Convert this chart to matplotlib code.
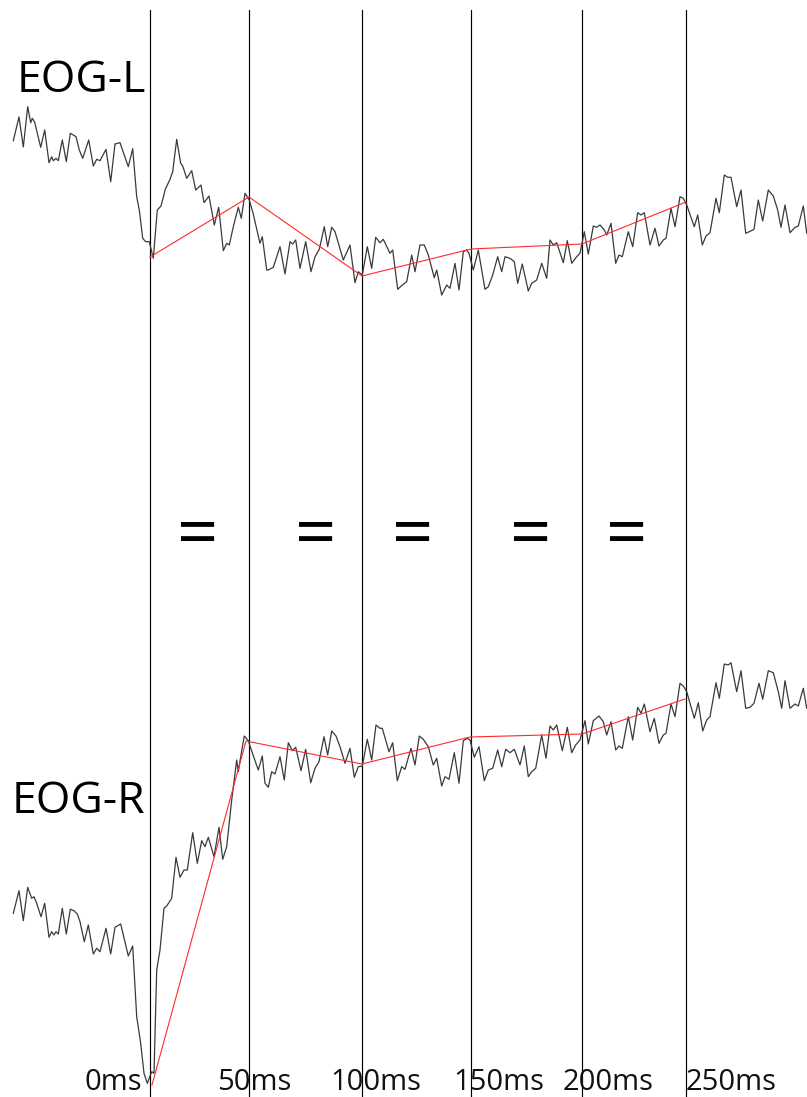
import matplotlib.pyplot as plt

# screen-space layout of the panel (x to the right, y downward)
WIDTH, HEIGHT = 807, 1097

# marker positions (vertical cursors) and their labels
cursor_x = [150, 249, 362, 471, 582, 686]
tick_labels = ["0ms", "50ms", "100ms", "150ms", "200ms", "250ms"]
tick_label_x = [85, 217, 330, 453, 563, 686]
equals_x = [198, 316, 413, 531, 627]

# left channel trace (vertices)
eog_l_x = [13.3, 19, 23.3, 27.7, 30.7, 32.3, 34.7, 40.7, 44.7, 49, 51.7, 53.3,
           56, 58.3, 62.3, 66.3, 70.3, 73.3, 76, 79.3, 82.7, 88.7, 93.3, 96.7,
           100, 106, 110.7, 115, 120, 128.3, 132.7, 136.7, 139.3, 142.7, 145.7,
           149.3, 153.3, 157.3, 161, 165.3, 170, 172.7, 176.7, 180.7, 182.7,
           186.7, 191.7, 195.7, 201, 204, 209, 214.3, 218.7, 223.3, 226.7,
           229.3, 233.3, 238.3, 241.3, 245, 249.3, 253, 260, 262.3, 266.7,
           268.3, 273.3, 280, 285, 290, 292.7, 295.7, 300, 305.7, 311, 315,
           319.3, 324.3, 327.7, 331.7, 335, 343.3, 350, 355, 358.3, 362.3,
           367.3, 371.7, 375.7, 380, 383.3, 390, 392.7, 397.7, 402.3, 406.7,
           411.7, 415, 420, 424.3, 428.3, 434.3, 436.7, 441.7, 446.7, 450, 455,
           459, 463.3, 466.7, 469, 473.3, 478.3, 485, 488.3, 492.7, 497.7,
           501.7, 505, 510, 514.3, 517.7, 522.3, 528.3, 531.7, 536.7, 541.7,
           546.7, 550, 553.3, 556.7, 563.3, 567.3, 571.7, 576.7, 580, 584.3,
           588.3, 593.3, 596.7, 600, 604.3, 606.7, 611, 615.7, 619, 622.3,
           628.3, 632.7, 637.7, 641, 644.3, 650, 655, 659, 663.3, 666, 671, 675,
           680, 683.3, 686.7, 694.3, 697.7, 702.3, 706, 710, 716, 719.3, 724.3,
           727.7, 731, 736.7, 741, 745.7, 749.3, 754, 758.3, 762.7, 768.3,
           773.3, 777.7, 781, 785, 790, 795, 798.3, 803.3, 806.7, 810]
eog_l_y = [140.7, 117, 147, 106.7, 122.7, 118.3, 122.3, 147.3, 130, 162.7,
           156.7, 160.7, 158.3, 160.7, 140, 161.7, 133.3, 135, 136.7, 150,
           158.3, 140, 166, 159.3, 160.7, 149.3, 181.7, 144, 142.7, 166.7,
           148.7, 196.7, 210, 238.3, 241.7, 241.7, 258.3, 210, 206, 189.3,
           179.3, 171.7, 139.3, 163.3, 166, 178.3, 170.7, 190, 185, 202.7, 196,
           225, 207.3, 250.7, 243.3, 245, 226.7, 207.3, 218.3, 193.3, 200,
           213, 243.3, 236.7, 270, 270, 267.3, 246.7, 274, 241.7, 244, 240,
           268.3, 241.7, 271.7, 256.7, 249.3, 226.7, 246.7, 227.3, 231.7, 260,
           245, 282.7, 271.7, 275, 246.7, 268.3, 237.3, 242.7, 239.3, 253.3,
           250, 289.3, 285, 281.7, 255, 271.7, 245, 245, 255, 277.7, 270, 295,
           285, 288.3, 263.3, 290, 251.7, 250, 253.3, 270, 250, 289.3, 286.7,
           275, 256.7, 271.7, 256.7, 258.3, 261.7, 283.3, 264, 291, 283.3,
           280, 263.3, 278.3, 240, 245, 242.7, 262.7, 240.7, 263.3, 256.7,
           253.3, 231.7, 254, 226, 227.3, 225, 230, 235, 223.3, 263.3, 255,
           256.7, 231.7, 246.7, 212.7, 215, 212.7, 245, 228.3, 246, 240, 238.3,
           208.3, 226.7, 196.7, 198.3, 205, 226.7, 215, 245, 236, 232.7, 198.3,
           212.7, 175, 177.3, 177.3, 206.7, 190, 233.3, 231.7, 229.3, 200,
           221, 190, 196, 210, 227.3, 205, 232.7, 227.3, 226, 206, 233.3, 220]

# right channel trace (vertices)
eog_r_x = [13.3, 19, 23.3, 27.7, 31.7, 34, 36.7, 41, 44.7, 49, 51.7, 54, 56,
           58.3, 62.3, 66.3, 70.3, 74, 77.3, 80, 84.3, 88.3, 93.3, 96.7, 100,
           106, 110.7, 115, 120.7, 128.3, 132.7, 136.7, 140.7, 144, 147.3,
           151.7, 154, 156.7, 160, 164, 166.7, 171.7, 176, 180, 184, 187.3,
           192.7, 197.3, 201.7, 205, 208.3, 214, 219, 222.7, 226.7, 231.7,
           236.7, 238.3, 240.7, 244.3, 248.3, 252, 258.3, 262.3, 265, 268.3,
           271.7, 275, 280, 284.3, 288.3, 292.3, 295.7, 301, 305.7, 310.7,
           315, 319, 324, 327.7, 331.7, 336, 340, 345, 350, 354.3, 358.3,
           362.3, 367.3, 371.7, 376, 380, 382.3, 389, 392.7, 397.3, 401.7,
           405, 411, 415, 419.3, 423.3, 428.3, 433.3, 436.7, 441.7, 445, 449,
           454.3, 459, 463.3, 467.3, 470, 474.3, 479, 484.3, 488.3, 492.7,
           497.7, 501.7, 505.7, 510, 514.3, 520, 524.3, 528.3, 531.7, 535.7,
           541.7, 546, 550, 553.3, 556.7, 562.3, 567.3, 571.7, 575.7, 580, 585,
           588.3, 593.3, 599, 603.3, 606.7, 611, 615.7, 619, 622.3, 628.3,
           632.7, 637.7, 641, 644.3, 650, 654.3, 659, 663.3, 666, 671, 675, 680,
           683.3, 686.7, 694.3, 698.3, 702.7, 706.7, 710, 716, 719.3, 724.3,
           728.3, 731, 736.7, 741, 745.7, 750, 754, 759, 762.7, 768.3, 773.3,
           778.3, 781.7, 785, 790, 795, 798.3, 803.3, 806.7, 810]
eog_r_y = [913.3, 890.7, 920.7, 887.3, 898.3, 896.7, 903.3, 916.7, 903.3,
           937.3, 931.7, 935, 931.7, 934, 908.3, 934, 909.3, 910.7, 914, 921.7,
           941.7, 925, 954, 948.3, 951.7, 928.3, 954, 927.3, 924, 956, 946,
           1016.7, 1043.3, 1073.3, 1083.3, 1071.7, 1073.3, 970, 950, 908.3, 906,
           898.3, 857.3, 877.3, 870, 870, 832.7, 863.3, 840.7, 846.7, 837.3,
           856.7, 827.3, 859.3, 846.7, 800, 760, 771.7, 756.7, 736, 740.7, 752,
           770, 756, 783.3, 787.3, 771.7, 774, 756.7, 780, 742.7, 750.7, 747.3,
           770.7, 749.3, 782.7, 768.3, 761.7, 736.7, 755, 731, 736, 746.7,
           763.3, 748.3, 777.3, 766.7, 766, 739.3, 760, 725, 728.3, 728.3,
           751.7, 742.7, 780.7, 766.7, 769.3, 748.3, 765, 736, 739.3, 746.7,
           765, 758.3, 786, 776.7, 779.3, 752.7, 783.3, 740.7, 738.3, 740,
           757.3, 746.7, 780.7, 770, 768.3, 750, 766.7, 749.3, 752.7, 749.3,
           765, 746, 776.7, 771.7, 768.3, 735, 758.3, 726, 730, 725, 750.7,
           727.3, 752.7, 745, 740, 720.7, 744, 720.7, 716, 721.7, 735, 721.7,
           750, 746, 748.3, 716.7, 740, 707.3, 713.3, 704, 731.7, 718.3, 743.3,
           735, 733.3, 704, 716.7, 683.3, 686, 691.7, 718.3, 702.7, 731, 720,
           716.7, 682.7, 698.3, 664, 665, 662.7, 691.7, 670.7, 708.3, 707.3,
           703.3, 683.3, 699.3, 670.7, 672.7, 691.7, 708.3, 680.7, 708.3, 704,
           706, 688.3, 708.3, 695]

# values picked at each cursor
pick_l_y = [257, 197, 276, 249, 244, 202]
pick_r_x = [152, 246, 362, 470, 582, 685]
pick_r_y = [1085, 741, 764, 737, 734, 699]


def main():
    fig = plt.figure(figsize=(WIDTH / 100, HEIGHT / 100), dpi=100)
    ax = fig.add_axes([0, 0, 1, 1])
    ax.set_xlim(0, WIDTH)
    ax.set_ylim(HEIGHT, 0)
    ax.axis("off")

    font = ["Open Sans", "DejaVu Sans"]

    for x in cursor_x:
        ax.plot([x, x], [10, HEIGHT], color="black", lw=0.85, zorder=1)

    ax.plot(eog_l_x, eog_l_y, color="#3a3a3a", lw=0.9, zorder=2)
    ax.plot(eog_r_x, eog_r_y, color="#3a3a3a", lw=0.9, zorder=2)

    ax.plot(cursor_x, pick_l_y, color="#ff2a2a", lw=0.8, zorder=3)
    ax.plot(pick_r_x, pick_r_y, color="#ff2a2a", lw=0.8, zorder=3)

    ax.text(17, 92, "EOG-L", fontsize=32, family=font, color="black",
            ha="left", va="baseline")
    ax.text(12, 813, "EOG-R", fontsize=32, family=font, color="black",
            ha="left", va="baseline")

    for x, label in zip(tick_label_x, tick_labels):
        ax.text(x, 1090, label, fontsize=21, family=font, color="#111111",
                ha="left", va="baseline")

    # the equals signs are drawn as two thick strokes of text
    for x in equals_x:
        ax.text(x, 538, "=", fontsize=52, family=font, fontweight="normal",
                color="black", ha="center", va="center")

    fig.savefig("out.png", dpi=100, facecolor="white")


if __name__ == '__main__':
    main()
